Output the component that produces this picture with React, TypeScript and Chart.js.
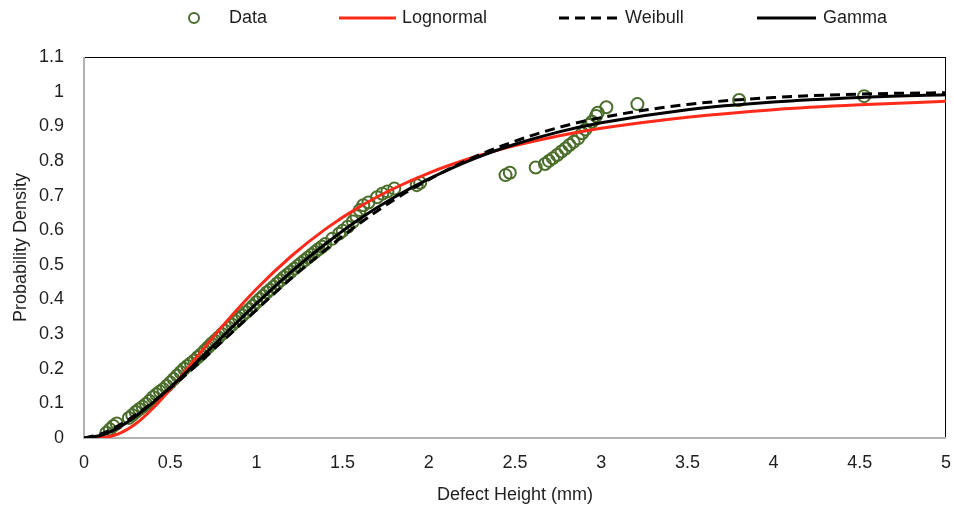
import React, { useEffect, useRef } from "react";
import { Chart, registerables } from "chart.js";

Chart.register(...registerables);

// ---- Data ----
const dataX = [
  0.13, 0.15, 0.17, 0.19, 0.26, 0.28, 0.30, 0.32, 0.34, 0.36, 0.38, 0.40,
  0.42, 0.44, 0.46, 0.48, 0.50, 0.52, 0.54, 0.56, 0.58, 0.60, 0.62, 0.64,
  0.66, 0.68, 0.70, 0.72, 0.74, 0.76, 0.78, 0.80, 0.82, 0.84, 0.86, 0.88,
  0.90, 0.92, 0.94, 0.96, 0.98, 1.00, 1.02, 1.04, 1.06, 1.08, 1.10, 1.12,
  1.14, 1.16, 1.18, 1.20, 1.22, 1.24, 1.26, 1.28, 1.30, 1.32, 1.34, 1.36,
  1.38, 1.40, 1.44, 1.48, 1.50, 1.53, 1.56, 1.58, 1.60, 1.62, 1.65, 1.70,
  1.73, 1.76, 1.80, 1.93, 1.95, 2.445, 2.47, 2.62, 2.674, 2.697, 2.72,
  2.745, 2.77, 2.793, 2.816, 2.84, 2.866, 2.89, 2.909, 2.928, 2.947, 2.97,
  2.98, 3.03, 3.21, 3.80, 4.525,
];
const dataY = [
  0.015, 0.025, 0.035, 0.042, 0.058, 0.066, 0.075, 0.083, 0.090, 0.098, 0.107, 0.118,
  0.126, 0.134, 0.141, 0.150, 0.160, 0.170, 0.180, 0.190, 0.200, 0.208, 0.216, 0.224,
  0.233, 0.242, 0.252, 0.262, 0.272, 0.281, 0.290, 0.300, 0.309, 0.318, 0.327, 0.336,
  0.345, 0.354, 0.363, 0.372, 0.381, 0.392, 0.401, 0.410, 0.420, 0.428, 0.437, 0.446,
  0.455, 0.464, 0.472, 0.480, 0.489, 0.497, 0.505, 0.513, 0.521, 0.529, 0.537, 0.545,
  0.552, 0.560, 0.575, 0.590, 0.598, 0.610, 0.625, 0.640, 0.658, 0.672, 0.680, 0.695,
  0.705, 0.712, 0.720, 0.730, 0.737, 0.759, 0.766, 0.781, 0.791, 0.800, 0.808,
  0.817, 0.827, 0.836, 0.846, 0.855, 0.865, 0.880, 0.891, 0.904, 0.913, 0.930,
  0.939, 0.955, 0.964, 0.976, 0.987,
];

const curveX = [0, 0.1, 0.2, 0.3, 0.4, 0.5, 0.6, 0.8, 1.0, 1.2, 1.4, 1.6, 1.8, 2.0, 2.25, 2.5, 2.75, 3.0, 3.5, 4.0, 4.5, 5.0];
const lognormalY = [0, 0.001, 0.012, 0.041, 0.086, 0.141, 0.201, 0.321, 0.430, 0.524, 0.603, 0.668, 0.721, 0.765, 0.809, 0.844, 0.872, 0.894, 0.926, 0.948, 0.962, 0.972];
const weibullY = [0, 0.012, 0.036, 0.067, 0.104, 0.144, 0.187, 0.278, 0.370, 0.460, 0.543, 0.620, 0.688, 0.746, 0.808, 0.857, 0.896, 0.925, 0.963, 0.983, 0.993, 0.997];
const gammaY = [0, 0.008, 0.030, 0.063, 0.102, 0.146, 0.193, 0.291, 0.388, 0.479, 0.560, 0.633, 0.695, 0.748, 0.804, 0.848, 0.883, 0.910, 0.948, 0.970, 0.983, 0.991];

const seriesNames = ["Data", "Lognormal", "Weibull", "Gamma"];
const xTitle = "Defect Height (mm)";
const yTitle = "Probability Density";
const xMin = 0, xMax = 5, xStep = 0.5;
const yMin = 0, yMax = 1.1, yStep = 0.1;

const FONT = "'Liberation Sans', Arial, sans-serif";
const TEXT = "#1f1f1f";
const GREEN = "#4B6E2C";

const pts = (xs: number[], ys: number[]) => xs.map((x, i) => ({ x, y: ys[i] }));

const framePlugin = {
  id: "frame",
  beforeDatasetsDraw(chart: any) {
    const { ctx, chartArea: a } = chart;
    ctx.save();
    ctx.lineWidth = 1;
    ctx.strokeStyle = "#000000";
    ctx.beginPath();
    ctx.moveTo(a.left, a.top + 0.5);
    ctx.lineTo(a.right, a.top + 0.5);
    ctx.moveTo(a.right - 0.5, a.top);
    ctx.lineTo(a.right - 0.5, a.bottom);
    ctx.stroke();
    ctx.lineWidth = 2;
    ctx.strokeStyle = "#b3b3b3";
    ctx.beginPath();
    ctx.moveTo(a.left, a.top);
    ctx.lineTo(a.left, a.bottom);
    ctx.lineTo(a.right, a.bottom);
    ctx.stroke();
    ctx.restore();
  },
};

const legendPlugin = {
  id: "customLegend",
  afterDraw(chart: any) {
    const ctx = chart.ctx;
    const ds = chart.data.datasets;
    const y = 18;
    const items = [
      { i: 0, m0: 188, m1: 200, tx: 229 },
      { i: 1, m0: 339, m1: 396, tx: 402 },
      { i: 2, m0: 559, m1: 617, tx: 625 },
      { i: 3, m0: 757, m1: 816, tx: 823 },
    ];
    ctx.save();
    items.forEach((it) => {
      const d = ds[it.i];
      if (d.showLine === false) {
        ctx.beginPath();
        ctx.lineWidth = d.pointBorderWidth;
        ctx.strokeStyle = d.pointBorderColor;
        ctx.setLineDash([]);
        ctx.arc((it.m0 + it.m1) / 2, y, d.pointRadius - 1, 0, Math.PI * 2);
        ctx.stroke();
      } else {
        ctx.beginPath();
        ctx.lineWidth = d.borderWidth;
        ctx.strokeStyle = d.borderColor;
        ctx.setLineDash(d.borderDash || []);
        ctx.moveTo(it.m0, y);
        ctx.lineTo(it.m1, y);
        ctx.stroke();
      }
      ctx.setLineDash([]);
      ctx.fillStyle = TEXT;
      ctx.font = `18px ${FONT}`;
      ctx.textBaseline = "middle";
      ctx.textAlign = "left";
      ctx.fillText(d.label, it.tx, y);
    });
    ctx.restore();
  },
};

const fmt = (v: any) => String(Math.round(Number(v) * 10) / 10);

export default function App() {
  const ref = useRef<HTMLCanvasElement | null>(null);
  useEffect(() => {
    if (!ref.current) return;
    const chart = new Chart(ref.current, {
      type: "scatter",
      data: {
        datasets: [
          {
            label: seriesNames[0],
            data: pts(dataX, dataY),
            showLine: false,
            pointRadius: 6,
            pointBorderWidth: 2,
            pointBorderColor: GREEN,
            pointBackgroundColor: "rgba(0,0,0,0)",
            borderColor: GREEN,
            backgroundColor: "rgba(0,0,0,0)",
            order: 3,
          } as any,
          {
            label: seriesNames[1],
            data: pts(curveX, lognormalY),
            showLine: true,
            pointRadius: 0,
            borderColor: "#FF2A1A",
            borderWidth: 3,
            cubicInterpolationMode: "monotone",
            order: 2,
          } as any,
          {
            label: seriesNames[2],
            data: pts(curveX, weibullY),
            showLine: true,
            pointRadius: 0,
            borderColor: "#000000",
            borderWidth: 3,
            borderDash: [10, 6],
            cubicInterpolationMode: "monotone",
            order: 1,
          } as any,
          {
            label: seriesNames[3],
            data: pts(curveX, gammaY),
            showLine: true,
            pointRadius: 0,
            borderColor: "#000000",
            borderWidth: 3,
            cubicInterpolationMode: "monotone",
            order: 0,
          } as any,
        ],
      },
      options: {
        animation: false,
        responsive: false,
        layout: { padding: { top: 57, right: 0, left: 0, bottom: 0 } },
        plugins: { legend: { display: false }, tooltip: { enabled: false } },
        scales: {
          x: {
            type: "linear",
            min: xMin,
            max: xMax,
            grid: { display: false, drawTicks: false },
            border: { display: false },
            ticks: { stepSize: xStep, padding: 14, color: TEXT, font: { family: FONT, size: 18 }, callback: fmt },
            title: { display: true, text: xTitle, color: TEXT, font: { family: FONT, size: 18 }, padding: { top: 0, bottom: 5 } },
            afterFit: (s: any) => { s.height = 73; s.paddingRight = 6; s.paddingLeft = 0; },
          },
          y: {
            type: "linear",
            min: yMin,
            max: yMax,
            grid: { display: false, drawTicks: false },
            border: { display: false },
            ticks: { stepSize: yStep, padding: 20, color: TEXT, font: { family: FONT, size: 18 }, callback: fmt },
            title: { display: true, text: yTitle, color: TEXT, font: { family: FONT, size: 18 }, padding: { top: 10, bottom: 0 } },
            afterFit: (s: any) => { s.width = 84; s.paddingTop = 0; s.paddingBottom = 0; },
          },
        },
      } as any,
      plugins: [framePlugin, legendPlugin],
    });
    return () => chart.destroy();
  }, []);
  return (
    <div style={{ position: "absolute", left: 0, top: 0, width: 954, height: 511, background: "#fff" }}>
      <canvas ref={ref} width={954} height={511} />
    </div>
  );
}
